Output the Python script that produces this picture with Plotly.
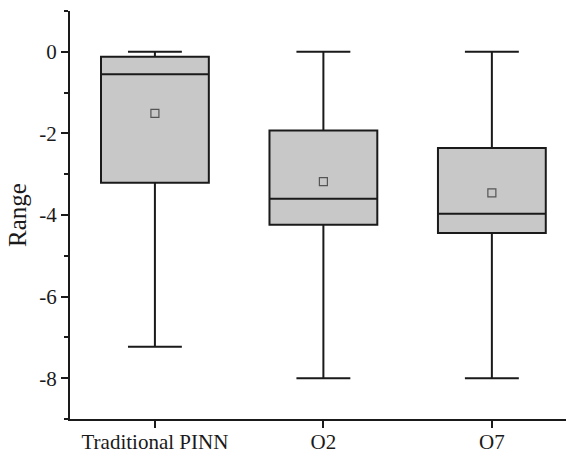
import plotly.graph_objects as go

categories = ["Traditional PINN", "O2", "O7"]
q1_vals = [-3.21, -4.24, -4.44]
median_vals = [-0.55, -3.60, -3.97]
q3_vals = [-0.12, -1.93, -2.36]
lower_vals = [-7.23, -8.0, -8.0]
upper_vals = [0.0, 0.0, 0.0]
mean_vals = [-1.51, -3.18, -3.46]

y_tickvals = [-8, -6, -4, -2, 0]
y_ticktext = ["-8", "-6", "-4", "-2", "0"]
y_minorvals = [-9, -7, -5, -3, -1, 1]

FONT = "Liberation Serif, Times New Roman, serif"
INK = "#1a1a1a"

fig = go.Figure()
fig.add_trace(go.Box(
    x=categories,
    q1=q1_vals, median=median_vals, q3=q3_vals,
    lowerfence=lower_vals, upperfence=upper_vals,
    fillcolor="#C8C8C8",
    line=dict(color=INK, width=2),
    width=0.64,
    whiskerwidth=0.5,
    boxpoints=False,
    showlegend=False,
    hoverinfo="skip",
))
fig.add_trace(go.Scatter(
    x=categories, y=mean_vals, mode="markers",
    marker=dict(symbol="square-open", size=8, color="#555555",
                line=dict(width=1.2, color="#555555")),
    showlegend=False, hoverinfo="skip",
))

fig.update_layout(
    width=566, height=454,
    margin=dict(l=70, r=0, t=11, b=35),
    plot_bgcolor="white", paper_bgcolor="white",
    font=dict(family=FONT, size=21, color=INK),
)
fig.update_xaxes(
    type="category", range=[-0.504, 2.44],
    automargin=False,
    showline=True, linecolor=INK, linewidth=2,
    ticks="outside", ticklen=7, tickwidth=2, tickcolor=INK,
    ticklabelstandoff=-4,
    showgrid=False, zeroline=False,
    tickfont=dict(family=FONT, size=21, color=INK),
)
fig.update_yaxes(
    range=[-9, 1],
    automargin=False,
    tickmode="array", tickvals=y_tickvals, ticktext=y_ticktext,
    showline=True, linecolor=INK, linewidth=2,
    ticks="outside", ticklen=7, tickwidth=2, tickcolor=INK,
    minor=dict(tickmode="array", tickvals=y_minorvals, ticks="outside",
               ticklen=4, tickwidth=2, tickcolor=INK, showgrid=False),
    showgrid=False, zeroline=False,
    tickfont=dict(family=FONT, size=21, color=INK),
    title=dict(text="Range", font=dict(family=FONT, size=25, color=INK), standoff=6),
)

fig.write_html("out.html")
